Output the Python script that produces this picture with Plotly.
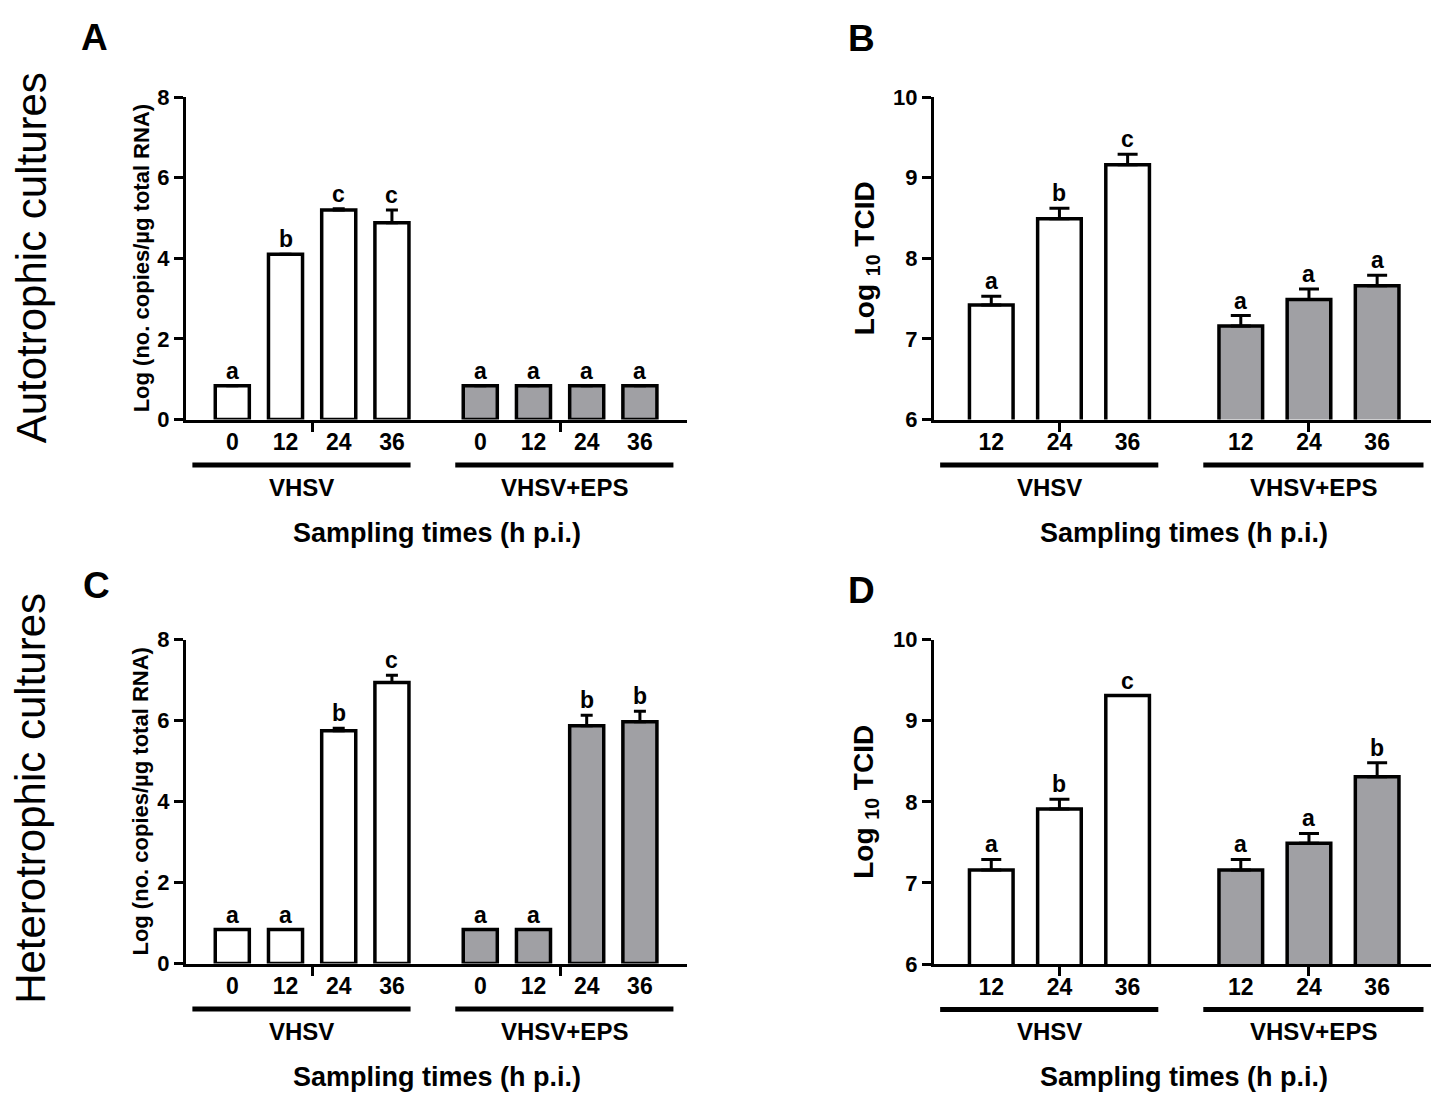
import plotly.graph_objects as go

W, H = 1447, 1110
FONT = "Liberation Sans, Arial, sans-serif"

# ---------------- data ----------------
times_rna = ["0", "12", "24", "36"]
times_tcid = ["12", "24", "36"]
group_names = ["VHSV", "VHSV+EPS"]

A_vhsv = [0.84, 4.10, 5.20, 4.88]
A_vhsv_err = [0.0, 0.0, 0.03, 0.32]
A_vhsv_let = ["a", "b", "c", "c"]
A_eps = [0.84, 0.84, 0.84, 0.84]
A_eps_err = [0.0, 0.0, 0.0, 0.0]
A_eps_let = ["a", "a", "a", "a"]

B_vhsv = [7.42, 8.49, 9.16]
B_vhsv_err = [0.11, 0.13, 0.13]
B_vhsv_let = ["a", "b", "c"]
B_eps = [7.16, 7.49, 7.66]
B_eps_err = [0.13, 0.13, 0.13]
B_eps_let = ["a", "a", "a"]

C_vhsv = [0.84, 0.84, 5.75, 6.94]
C_vhsv_err = [0.0, 0.0, 0.06, 0.18]
C_vhsv_let = ["a", "a", "b", "c"]
C_eps = [0.84, 0.84, 5.87, 5.97]
C_eps_err = [0.0, 0.0, 0.26, 0.26]
C_eps_let = ["a", "a", "b", "b"]

D_vhsv = [7.16, 7.91, 9.31]
D_vhsv_err = [0.13, 0.12, 0.0]
D_vhsv_let = ["a", "b", "c"]
D_eps = [7.16, 7.49, 8.31]
D_eps_err = [0.13, 0.12, 0.17]
D_eps_let = ["a", "a", "b"]

yticks_rna = [0, 2, 4, 6, 8]
yticks_tcid = [6, 7, 8, 9, 10]

# ---------------- style / layout params ----------------
WHITE = "#ffffff"
GRAY = "#a0a0a4"
GAP = 1.66          # distance between last VHSV bar and first EPS bar (in bar units)
BAR_W = 0.64


def px(x):
    return x / W


def py(y):
    return 1 - y / H


panels = [
    dict(k=1, letter="A", times=times_rna, v=A_vhsv, ve=A_vhsv_err, vl=A_vhsv_let,
         e=A_eps, ee=A_eps_err, el=A_eps_let, yr=[0, 8], yt=yticks_rna,
         xd=(186, 687), yd=(87, 417), xr=(-0.87, 0.885), cap=6,
         gl=((-0.75, 0.35), (-0.47, 0.63)), samp=3.84,
         ytitle="Log (no. copies/µg total RNA)", ytx=141, ytsize=22,
         lx=94, ly=26),
    dict(k=2, letter="B", times=times_tcid, v=B_vhsv, ve=B_vhsv_err, vl=B_vhsv_let,
         e=B_eps, ee=B_eps_err, el=B_eps_let, yr=[6, 10], yt=yticks_tcid,
         xd=(934, 1431), yd=(87, 417), xr=(-0.84, 0.79), cap=10,
         gl=((-0.75, 0.45), (-0.55, 0.68)), samp=2.83,
         ytitle="Log <sub>10</sub> TCID", ytx=866, ytsize=28,
         lx=861, ly=27),
    dict(k=3, letter="C", times=times_rna, v=C_vhsv, ve=C_vhsv_err, vl=C_vhsv_let,
         e=C_eps, ee=C_eps_err, el=C_eps_let, yr=[0, 8], yt=yticks_rna,
         xd=(186, 687), yd=(642, 973.5), xr=(-0.87, 0.885), cap=6,
         gl=((-0.75, 0.35), (-0.47, 0.63)), samp=3.84,
         ytitle="Log (no. copies/µg total RNA)", ytx=141, ytsize=22,
         lx=96, ly=587),
    dict(k=4, letter="D", times=times_tcid, v=D_vhsv, ve=D_vhsv_err, vl=D_vhsv_let,
         e=D_eps, ee=D_eps_err, el=D_eps_let, yr=[6, 10], yt=yticks_tcid,
         xd=(934, 1431), yd=(642, 974), xr=(-0.84, 0.79), cap=10,
         gl=((-0.75, 0.45), (-0.55, 0.68)), samp=2.83,
         ytitle="Log <sub>10</sub> TCID", ytx=866, ytsize=28,
         lx=861, ly=592),
]

fig = go.Figure()
annotations = []
shapes = []
layout = {}

for p in panels:
    k = p["k"]
    xa, ya = f"x{k}", f"y{k}"
    n = len(p["times"])
    pos_v = [float(i) for i in range(n)]
    pos_e = [n - 1 + GAP + i for i in range(n)]

    for pos, vals, errs, lets, col in ((pos_v, p["v"], p["ve"], p["vl"], WHITE),
                                        (pos_e, p["e"], p["ee"], p["el"], GRAY)):
        fig.add_trace(go.Bar(
            x=pos, y=vals, width=BAR_W, xaxis=xa, yaxis=ya, showlegend=False,
            marker=dict(color=col, line=dict(color="black", width=3.5)),
            error_y=dict(type="data", symmetric=False, array=errs,
                         arrayminus=[0] * len(errs), color="black",
                         thickness=3, width=p["cap"]),
        ))
        for xx, val, er, lt in zip(pos, vals, errs, lets):
            annotations.append(dict(
                x=xx, y=val + er, xref=xa, yref=ya, text=f"<b>{lt}</b>",
                showarrow=False, yanchor="bottom", yshift=0,
                font=dict(family=FONT, size=23, color="black")))

    x0 = pos_v[0] + p["xr"][0]
    x1 = pos_e[-1] + p["xr"][1]
    centers = [(pos_v[0] + pos_v[-1]) / 2, (pos_e[0] + pos_e[-1]) / 2]

    layout[f"xaxis{k}"] = dict(
        domain=[px(p["xd"][0]), px(p["xd"][1])], range=[x0, x1], anchor=ya,
        tickvals=pos_v + pos_e, ticktext=[f"<b>{t}</b>" for t in p["times"]] * 2,
        ticks="", showline=True, linewidth=3, linecolor="black",
        showgrid=False, zeroline=False, ticklabelstandoff=0,
        tickfont=dict(family=FONT, size=23, color="black"),
        minor=dict(tickvals=centers, ticks="outside", ticklen=9, tickwidth=3,
                   tickcolor="black", showgrid=False),
        fixedrange=True,
    )
    layout[f"yaxis{k}"] = dict(
        domain=[py(p["yd"][1]), py(p["yd"][0])], range=p["yr"], anchor=xa,
        tickvals=p["yt"], ticktext=[f"<b>{t}</b>" for t in p["yt"]],
        ticks="outside", ticklen=9, tickwidth=3, tickcolor="black",
        showline=True, linewidth=3, linecolor="black", showgrid=False,
        zeroline=False, tickfont=dict(family=FONT, size=22, color="black"),
        fixedrange=True,
    )

    ax_y = p["yd"][1]
    # group lines + group labels
    for (lo, hi), pos, name in zip(p["gl"], (pos_v, pos_e), group_names):
        gx0, gx1 = pos[0] + lo, pos[-1] + hi
        shapes.append(dict(type="line", xref=xa, yref="paper", x0=gx0, x1=gx1,
                           y0=py(ax_y + 46.5), y1=py(ax_y + 46.5),
                           line=dict(color="black", width=5)))
        annotations.append(dict(x=(gx0 + gx1) / 2, y=py(ax_y + 69), xref=xa, yref="paper",
                                text=f"<b>{name}</b>", showarrow=False,
                                xanchor="center", yanchor="middle",
                                font=dict(family=FONT, size=24, color="black")))
    # x title
    annotations.append(dict(x=p["samp"], y=py(ax_y + 116), xref=xa, yref="paper",
                            text="<b>Sampling times (h p.i.)</b>", showarrow=False,
                            xanchor="center", yanchor="middle",
                            font=dict(family=FONT, size=27, color="black")))
    # y title
    annotations.append(dict(x=px(p["ytx"]), y=py((p["yd"][0] + p["yd"][1]) / 2),
                            xref="paper", yref="paper", text=f"<b>{p['ytitle']}</b>",
                            textangle=-90, showarrow=False, xanchor="center", yanchor="middle",
                            font=dict(family=FONT, size=p["ytsize"], color="black")))
    # panel letter
    annotations.append(dict(x=px(p["lx"]), y=py(p["ly"]), xref="paper", yref="paper",
                            text=f"<b>{p['letter']}</b>", showarrow=False,
                            xanchor="center", yanchor="middle",
                            font=dict(family=FONT, size=37, color="black")))

# row labels
for txt, yc in (("Autotrophic cultures", 252), ("Heterotrophic cultures", 805)):
    annotations.append(dict(x=px(31), y=py(yc), xref="paper", yref="paper", text=txt,
                            textangle=-90, showarrow=False, xanchor="center", yanchor="middle",
                            font=dict(family=FONT, size=42, color="black")))

fig.update_layout(
    width=W, height=H, margin=dict(l=0, r=0, t=0, b=0),
    paper_bgcolor="white", plot_bgcolor="white",
    barmode="overlay", annotations=annotations, shapes=shapes,
    font=dict(family=FONT, color="black"),
    **layout,
)

fig.write_html("out.html", config={"displayModeBar": False, "staticPlot": True},
               post_script="document.body.style.margin='0px';document.body.style.overflow='hidden';")
